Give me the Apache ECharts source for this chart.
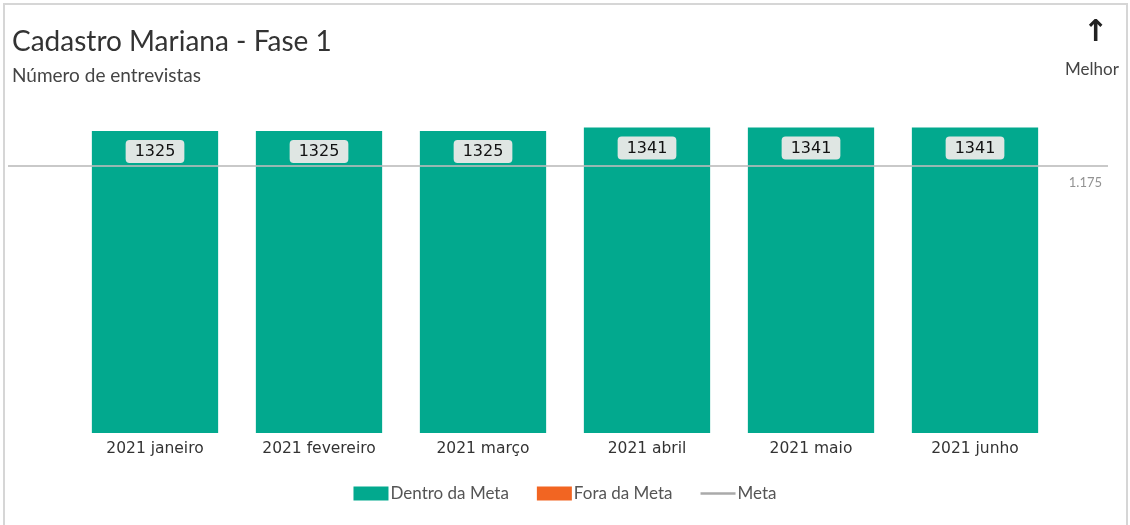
<!DOCTYPE html>
<html>
<head>
<meta charset="utf-8">
<script src="https://cdn.jsdelivr.net/npm/echarts@6/dist/echarts.min.js"></script>
<style>
  html, body { margin: 0; padding: 0; background: #fff; }
  #chart { width: 1130px; height: 525px; }
</style>
</head>
<body>
<div id="chart"></div>
<script>
// dados
const meses = ['2021 janeiro', '2021 fevereiro', '2021 março', '2021 abril', '2021 maio', '2021 junho'];
const dentroDaMeta = [1325, 1325, 1325, 1341, 1341, 1341];
const foraDaMeta = [];
const meta = 1175;

function fmtBR(v) {
  return String(v).replace(/\B(?=(\d{3})+(?!\d))/g, '.');
}

let myChart = echarts.init(document.getElementById('chart'));
let option = {
  animation: false,
  textStyle: { fontFamily: 'Lato' },
  title: {
    text: 'Cadastro Mariana - Fase 1',
    subtext: 'Número de entrevistas',
    left: 7,
    top: 23,
    itemGap: 10,
    textStyle: { fontFamily: 'Lato', fontSize: 28, fontWeight: 'normal', color: '#333' },
    subtextStyle: { fontFamily: 'Lato', fontSize: 19, color: '#444' }
  },
  graphic: [
    {
      type: 'rect',
      shape: { x: 4, y: 4, width: 1123, height: 540 },
      style: { fill: 'none', stroke: '#d6d6d6', lineWidth: 2 },
      silent: true
    },
    {
      type: 'text',
      left: 1083, top: 18,
      style: { text: '↑', font: 'bold 30px DejaVu Sans', fill: '#222' }
    },
    {
      type: 'text',
      left: 1065, top: 61,
      style: { text: 'Melhor', font: '17px Lato', fill: '#444' }
    }
  ],
  legend: {
    bottom: 18,
    left: 'center',
    itemWidth: 35,
    itemHeight: 14,
    itemGap: 28,
    textStyle: { fontFamily: 'Lato', fontSize: 17, color: '#555', padding: [0, 0, 0, -3] },
    data: [
      { name: 'Dentro da Meta', icon: 'rect' },
      { name: 'Fora da Meta', icon: 'rect' },
      { name: 'Meta', icon: 'path://M0,0H30V2H0Z', itemStyle: { color: '#aaa' } }
    ]
  },
  grid: { left: 73, right: 73, top: 114, bottom: 92 },
  xAxis: {
    type: 'category',
    data: meses,
    axisLine: { show: false },
    axisTick: { show: false },
    axisLabel: { margin: 8, fontFamily: 'DejaVu Sans', fontSize: 15.5, color: '#333' }
  },
  yAxis: {
    type: 'value',
    min: 0,
    max: 1400,
    show: false,
    splitLine: { show: false }
  },
  series: [
    {
      name: 'Dentro da Meta',
      type: 'bar',
      stack: 'total',
      barWidth: '77%',
      data: dentroDaMeta,
      itemStyle: { color: '#02A98E' },
      label: {
        show: true,
        position: 'insideTop',
        distance: 9,
        fontFamily: 'DejaVu Sans',
        fontSize: 16,
        color: '#111',
        backgroundColor: '#dfe6e3',
        borderRadius: 4,
        padding: [4, 9, 3, 9]
      }
    },
    {
      name: 'Fora da Meta',
      type: 'bar',
      stack: 'total',
      data: foraDaMeta,
      itemStyle: { color: '#F26522' }
    },
    {
      name: 'Meta',
      type: 'line',
      data: [],
      itemStyle: { color: '#aaa' },
      lineStyle: { color: '#aaa' },
      z: 5,
      markLine: {
        silent: true,
        symbol: 'none',
        lineStyle: { color: '#bbbbbb', type: 'solid', width: 2, opacity: 0.8 },
        label: {
          show: true,
          position: 'insideEndBottom',
          distance: [6, 11],
          fontFamily: 'Lato',
          fontSize: 13,
          color: '#777',
          formatter: function () { return fmtBR(meta); }
        },
        data: [[{ yAxis: meta, x: 8 }, { yAxis: meta, x: 1108 }]]
      }
    }
  ]
};
myChart.setOption(option);
</script>
</body>
</html>
